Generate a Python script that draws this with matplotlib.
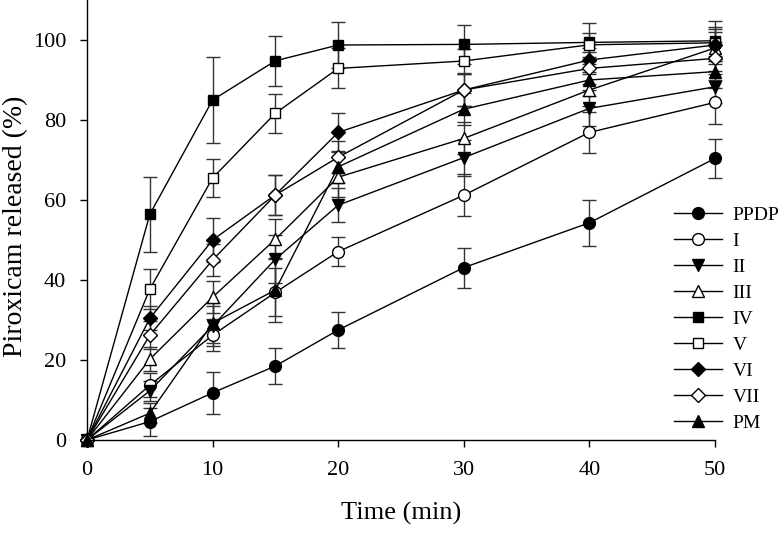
import matplotlib
matplotlib.use("Agg")
import matplotlib.pyplot as plt

time_min = [0, 5, 10, 15, 20, 30, 40, 50]
labels = ["PPDP", "I", "II", "III", "IV", "V", "VI", "VII", "PM"]

PPDP = [0, 4.6, 11.8, 18.5, 27.5, 43.1, 54.3, 70.4]
PPDP_err = [0, 3.5, 5.3, 4.4, 4.5, 5.0, 5.7, 4.8]
I = [0, 13.7, 26.2, 36.9, 47.1, 61.2, 76.9, 84.4]
I_err = [0, 3.0, 4.0, 6.0, 3.6, 5.2, 5.2, 5.5]
II = [0, 12.3, 28.5, 45.2, 58.7, 70.6, 82.9, 88.3]
II_err = [0, 2.5, 5.0, 6.0, 4.2, 4.5, 4.5, 4.0]
III = [0, 20.2, 35.7, 50.2, 65.7, 75.4, 87.5, 98.0]
III_err = [0, 3.0, 4.0, 5.0, 5.0, 4.0, 4.0, 4.0]
IV = [0, 56.4, 85.0, 94.8, 98.75, 98.9, 99.4, 99.8]
IV_err = [0, 9.4, 10.8, 6.2, 5.7, 4.8, 4.75, 5.0]
V = [0, 37.7, 65.5, 81.7, 92.9, 94.75, 98.8, 99.3]
V_err = [0, 5.0, 4.75, 4.9, 5.0, 3.0, 3.0, 4.0]
VI = [0, 30.4, 50.0, 61.3, 76.9, 87.5, 95.0, 98.75]
VI_err = [0, 3.0, 5.4, 5.0, 4.9, 4.0, 3.0, 4.0]
VII = [0, 26.2, 45.0, 61.25, 70.7, 87.5, 92.9, 95.4]
VII_err = [0, 3.5, 4.0, 5.0, 4.0, 4.0, 4.0, 4.0]
PM = [0, 6.7, 29.2, 37.5, 68.3, 82.7, 90.0, 92.1]
PM_err = [0, 2.5, 5.0, 8.0, 4.0, 4.0, 4.0, 4.0]

series = [PPDP, I, II, III, IV, V, VI, VII, PM]
errors = [PPDP_err, I_err, II_err, III_err, IV_err, V_err, VI_err, VII_err, PM_err]
styles = [("o", "black", 8.5), ("o", "white", 8.5), ("v", "black", 8.5),
          ("^", "white", 8.5), ("s", "black", 7.5), ("s", "white", 7.5),
          ("D", "black", 7), ("D", "white", 7), ("^", "black", 8.5)]

plt.rcParams["font.family"] = ["Liberation Serif", "DejaVu Serif"]

fig = plt.figure(figsize=(7.84, 5.33), dpi=100)
ax = fig.add_axes([87 / 784, 1 - 440 / 533, 628 / 784, 440 / 533])

for y, e, lab, (m, fc, ms) in zip(series, errors, labels, styles):
    ax.errorbar(time_min, y, yerr=e, color="black", ecolor="#333333",
                elinewidth=1.0, capsize=5, capthick=1.0, lw=1.0,
                marker=m, mfc=fc, mec="black", mew=1.0, ms=ms, label=lab,
                clip_on=False)

ax.set_xlim(0, 50)
ax.set_ylim(0, 110)
ax.set_xticks([0, 10, 20, 30, 40, 50])
ax.set_yticks([0, 20, 40, 60, 80, 100])
ax.spines["top"].set_visible(False)
ax.spines["right"].set_visible(False)
for s in ("left", "bottom"):
    ax.spines[s].set_linewidth(1.0)
ax.tick_params(direction="out", length=5, width=1.0, labelsize=16, pad=10)

ax.set_xlabel("Time (min)", fontsize=19)
ax.set_ylabel("Piroxicam released (%)", fontsize=20)
ax.xaxis.set_label_coords(0.5, -0.14)
ax.yaxis.set_label_coords(-0.094, 0.485)

handles, labs = ax.get_legend_handles_labels()
handles = [h[0] for h in handles]
leg = fig.legend(handles, labs, loc="upper left",
                 bbox_to_anchor=(674 / 784, 1 - 206 / 533),
                 bbox_transform=fig.transFigure, frameon=False,
                 fontsize=14, handlelength=2.45, handletextpad=0.55,
                 labelspacing=0.435, borderpad=0, borderaxespad=0)

fig.savefig("out.png", dpi=100)
